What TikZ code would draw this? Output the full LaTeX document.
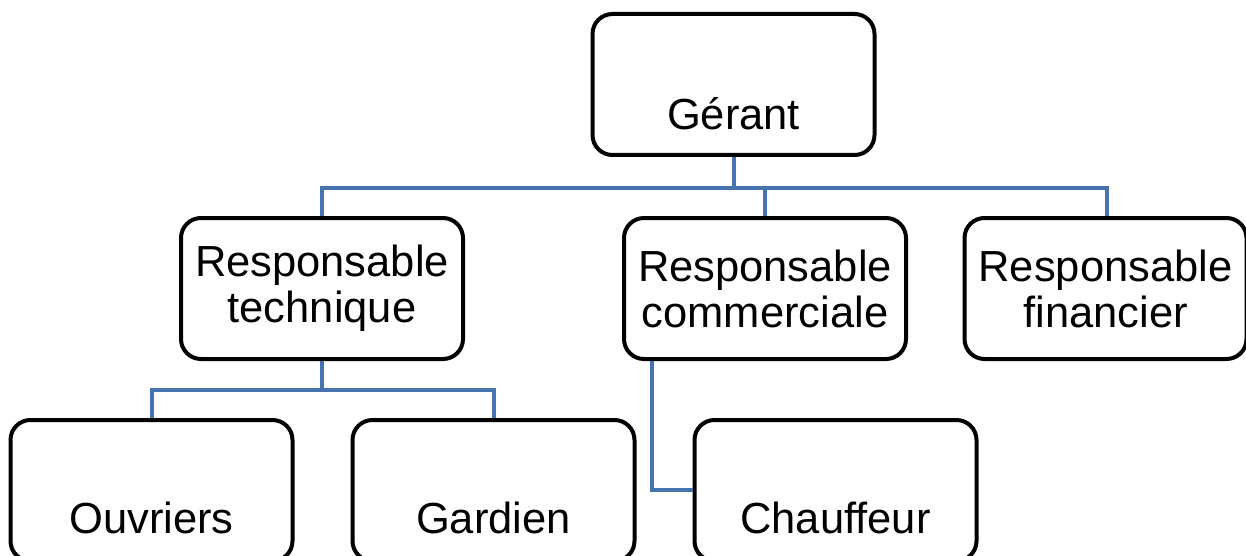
\documentclass[tikz,border=0pt]{standalone}
\usepackage{fontspec}
\setmainfont{Liberation Sans}
\definecolor{connblue}{HTML}{4672AE}
\begin{document}
\begin{tikzpicture}[x=1pt,y=1pt,
  box/.style={draw=black,line width=4pt,rounded corners=20pt,fill=white,
    minimum width=282pt,minimum height=141pt,inner sep=0pt,
    align=center,font=\fontsize{43.5}{46}\selectfont},
  txt/.style={inner sep=0pt,font=\fontsize{43.5}{46}\selectfont,anchor=base},
  conn/.style={draw=connblue,line width=4pt}]
\useasboundingbox (0,0) rectangle (1246,-556);
\clip (0,0) rectangle (1246,-556);
% bus coordinates
\coordinate (bus1) at (0,-188);
\coordinate (bus2) at (0,-390);
\coordinate (bus3) at (0,-490);
% boxes
\node[box] (g) at (733.5,-84.5) {};
\node[txt] (gt) at (733.5,-130) {Gérant};
\node[box] (tech) at (322,-288.5) {Responsable\\technique};
\node[box] (comm) at (765,-288.5) {Responsable\\commerciale};
\node[box] (fin) at (1105.5,-288.5) {Responsable\\financier};
\node[box] (ouv) at (151.5,-490.5) {};
\node[txt] (ouvt) at (151.5,-533) {Ouvriers};
\node[box] (gard) at (493.5,-490.5) {};
\node[txt] (gardt) at (493.5,-533) {Gardien};
\node[box] (chauf) at (835.5,-490.5) {};
\node[txt] (chauft) at (835.5,-533) {Chauffeur};
% connectors
\coordinate (cv) at ([xshift=-113pt]comm.south);
\draw[conn] (g.south) -- (g.south |- bus1);
\draw[conn] (tech.north) -- (tech.north |- bus1) -- ([xshift=1.5pt]fin.north |- bus1) -- ([xshift=1.5pt]fin.north);
\draw[conn] (comm.north) -- (comm.north |- bus1);
\draw[conn] (tech.south) -- (tech.south |- bus2);
\draw[conn] (ouv.north) -- (ouv.north |- bus2) -- (gard.north |- bus2) -- (gard.north);
\draw[conn] (cv) -- (cv |- bus3) -- (chauf.west |- bus3);
\end{tikzpicture}
\end{document}
